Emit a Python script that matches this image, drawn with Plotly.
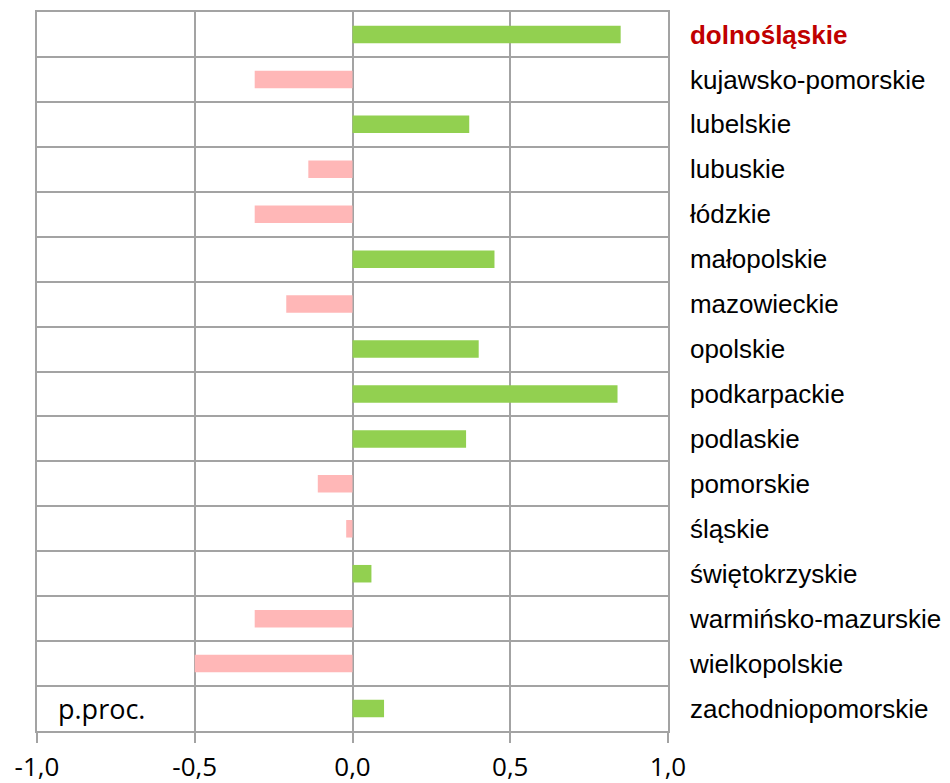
import plotly.graph_objects as go

regions = ["dolnośląskie", "kujawsko-pomorskie", "lubelskie", "lubuskie", "łódzkie",
           "małopolskie", "mazowieckie", "opolskie", "podkarpackie", "podlaskie",
           "pomorskie", "śląskie", "świętokrzyskie", "warmińsko-mazurskie",
           "wielkopolskie", "zachodniopomorskie"]
values = [0.85, -0.31, 0.37, -0.14, -0.31, 0.45, -0.21, 0.40, 0.84, 0.36,
          -0.11, -0.02, 0.06, -0.31, -0.50, 0.10]
x_ticks = [-1.0, -0.5, 0.0, 0.5, 1.0]
x_tick_labels = ["-1,0", "-0,5", "0,0", "0,5", "1,0"]
unit_label = "p.proc."
highlight = "dolnośląskie"

pos_color = "#92D050"
neg_color = "#FFB7B7"
colors = [pos_color if v >= 0 else neg_color for v in values]

tick_text = [f"<span style='color:#C00000'><b>{r}</b></span>" if r == highlight else r
             for r in regions]

fig = go.Figure(go.Bar(
    x=values, y=regions, orientation="h",
    marker=dict(color=colors, line=dict(width=0)),
    width=0.39,
))

grid = "#A3A3A3"
fig.update_layout(
    width=950, height=783,
    margin=dict(l=37, r=282, t=12, b=52),
    plot_bgcolor="white", paper_bgcolor="white",
    showlegend=False,
    xaxis=dict(
        range=[-1, 1], tickvals=x_ticks, ticktext=x_tick_labels,
        showgrid=True, gridcolor=grid, gridwidth=1.5,
        zeroline=False, showline=True, linecolor=grid, linewidth=1.5, mirror=True,
        ticks="outside", ticklen=10, tickcolor=grid, tickwidth=1.5,
        tickfont=dict(family="Open Sans", size=26, color="black"),
        ticklabelstandoff=2,
        automargin=False,
        fixedrange=True,
    ),
    yaxis=dict(
        type="category", categoryorder="array", categoryarray=regions,
        autorange="reversed", side="right",
        tickvals=regions, ticktext=tick_text,
        tickson="boundaries", ticks="", showgrid=True, gridcolor=grid, gridwidth=1.5,
        showline=True, linecolor=grid, linewidth=1.5, mirror=True,
        tickfont=dict(family="Liberation Sans", size=26, color="black"),
        ticklabelstandoff=15,
        automargin=False,
        fixedrange=True,
    ),
)

fig.add_annotation(
    x=0.03, xref="paper", y=regions[-1], yref="y",
    text=unit_label, showarrow=False, xanchor="left", yanchor="middle",
    font=dict(family="Open Sans", size=27, color="black"),
)

fig.write_html(
    "out.html",
    config={"displayModeBar": False},
    post_script="document.body.style.margin='0';document.body.style.overflow='hidden';",
)
